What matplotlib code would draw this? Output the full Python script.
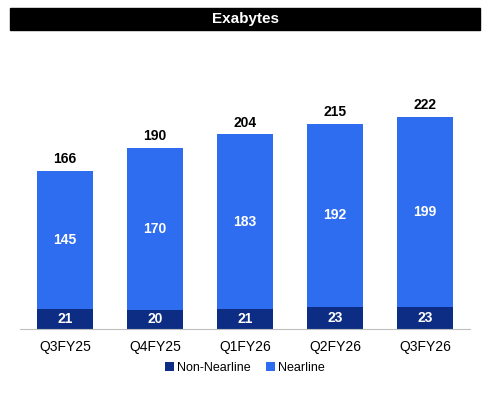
import matplotlib.pyplot as plt

quarters = ["Q3FY25", "Q4FY25", "Q1FY26", "Q2FY26", "Q3FY26"]
non_nearline = [21, 20, 21, 23, 23]
nearline = [145, 170, 183, 192, 199]
totals = [166, 190, 204, 215, 222]

dark = "#0c2d83"
blue = "#2f6df0"

W, H = 490, 407
fig = plt.figure(figsize=(W / 100, H / 100), dpi=100)

# black title bar
fig.patches.append(plt.Rectangle((10 / W, 1 - 30 / H), 470 / W, 22 / H,
                                 transform=fig.transFigure, color="black"))
fig.text(245 / W, 1 - 19 / H, "Exabytes", color="white", ha="center", va="center",
         fontsize=11, fontweight="bold", family="Liberation Sans")

ax = fig.add_axes([20 / W, 1 - 329 / H, 450 / W, 269 / H])
x = range(len(quarters))
ax.bar(x, non_nearline, width=0.63, color=dark, label="Non-Nearline")
ax.bar(x, nearline, width=0.63, bottom=non_nearline, color=blue, label="Nearline")

for i in x:
    ax.text(i, non_nearline[i] / 2, str(non_nearline[i]), color="white", ha="center",
            va="center", fontsize=10, fontweight="bold", family="Liberation Sans")
    ax.text(i, non_nearline[i] + nearline[i] / 2, str(nearline[i]), color="white",
            ha="center", va="center", fontsize=10, fontweight="bold", family="Liberation Sans")
    ax.text(i, totals[i] + 5, str(totals[i]), color="black", ha="center", va="bottom",
            fontsize=10, fontweight="bold", family="Liberation Sans")

ax.set_xlim(-0.5, 4.5)
ax.set_ylim(0, 282)
ax.set_yticks([])
ax.set_xticks(list(x))
ax.set_xticklabels(quarters, fontsize=10, family="Liberation Sans")
ax.tick_params(axis="x", length=0, pad=8)
for s in ["top", "right", "left"]:
    ax.spines[s].set_visible(False)
ax.spines["bottom"].set_color("#bfbfbf")

fig.legend(loc="center", bbox_to_anchor=(245 / W, 1 - 368 / H), ncol=2, frameon=False,
           prop={"family": "Liberation Sans", "size": 9}, handlelength=0.7,
           handleheight=0.7, columnspacing=1.2, handletextpad=0.3)

fig.savefig("out.png", dpi=100, facecolor="white")
